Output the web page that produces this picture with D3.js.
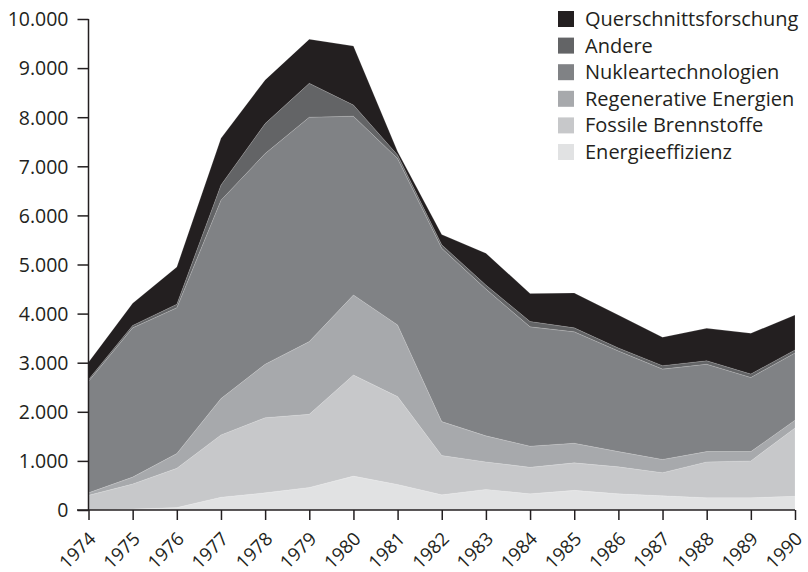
<!DOCTYPE html>
<html>
<head>
<meta charset="utf-8">
<script src="https://cdn.jsdelivr.net/npm/d3@7"></script>
<style>
  body { margin: 0; background: #fff; }
  text { font-family: "Open Sans", "Noto Sans", sans-serif; fill: #231f20; }
</style>
</head>
<body>
<svg width="808" height="572"></svg>
<script>
// years and series (Mio. DM)
var years = [1974, 1975, 1976, 1977, 1978, 1979, 1980, 1981, 1982, 1983, 1984, 1985, 1986, 1987, 1988, 1989, 1990];
var energieeffizienz = [0, 20, 50, 260, 350, 460, 690, 520, 310, 420, 330, 400, 330, 290, 250, 250, 280];
var fossile = [300, 510, 800, 1270, 1530, 1490, 2060, 1790, 800, 560, 540, 560, 550, 470, 730, 750, 1390];
var regenerative = [50, 140, 300, 740, 1090, 1480, 1630, 1460, 690, 530, 430, 400, 310, 270, 210, 190, 160];
var nuklear = [2270, 3040, 2970, 4040, 4290, 4570, 3640, 3390, 3530, 2990, 2430, 2270, 2050, 1840, 1780, 1510, 1370];
var andere = [40, 50, 70, 310, 610, 690, 230, 70, 70, 80, 110, 80, 60, 70, 70, 70, 60];
var querschnitt = [350, 450, 760, 950, 890, 900, 1200, 70, 210, 650, 570, 710, 670, 580, 660, 830, 710];

var keys = ["Energieeffizienz", "Fossile Brennstoffe", "Regenerative Energien", "Nukleartechnologien", "Andere", "Querschnittsforschung"];
var colors = ["#e1e2e3", "#c7c8ca", "#a7a9ac", "#808285", "#636466", "#231f20"];
var yTicks = [0, 1000, 2000, 3000, 4000, 5000, 6000, 7000, 8000, 9000, 10000];

var series = [energieeffizienz, fossile, regenerative, nuklear, andere, querschnitt];
var rows = years.map(function (y, i) {
  var r = { year: y };
  keys.forEach(function (k, j) { r[k] = series[j][i]; });
  return r;
});

var svg = d3.select("svg");

var x = d3.scaleLinear().domain([1974, 1990]).range([88.5, 795]);
var y = d3.scaleLinear().domain([0, 10000]).range([510, 19]);

var stacked = d3.stack().keys(keys)(rows);

var area = d3.area()
  .x(function (d) { return x(d.data.year); })
  .y0(function (d) { return y(d[0]); })
  .y1(function (d) { return y(d[1]); });

svg.append("g")
  .selectAll("path")
  .data(stacked)
  .enter()
  .append("path")
  .attr("d", area)
  .style("fill", function (d, i) { return colors[i]; })
  .style("stroke", "rgba(255,255,255,0.25)")
  .style("stroke-width", 0.6);

// y axis
var yAxis = svg.append("g")
  .attr("transform", "translate(88.5,0)")
  .call(d3.axisLeft(y).tickValues(yTicks).tickSize(11).tickPadding(9)
    .tickFormat(function (d) { return d3.format(",")(d).replace(/,/g, "."); }));
yAxis.select(".domain").attr("stroke", "#231f20").attr("stroke-width", 1.5).attr("d", "M0,19V510");
yAxis.selectAll(".tick line").attr("stroke", "#231f20").attr("stroke-width", 1.5);
yAxis.selectAll("text").style("font-size", "19.5px").attr("dy", "0.35em");

// x axis
var xAxis = svg.append("g")
  .attr("transform", "translate(0,510)")
  .call(d3.axisBottom(x).tickValues(years).tickSize(10).tickFormat(d3.format("d")));
xAxis.select(".domain").attr("stroke", "#231f20").attr("stroke-width", 1.5).attr("d", "M77,0H795");
xAxis.selectAll(".tick line").attr("stroke", "#231f20").attr("stroke-width", 1.5);
xAxis.selectAll("text")
  .style("font-size", "18.5px")
  .style("text-anchor", "end")
  .attr("x", 0)
  .attr("y", 0)
  .attr("dy", "0")
  .attr("transform", "translate(8,30) rotate(-45)");

// legend
var legendKeys = keys.slice().reverse();
var legendColors = colors.slice().reverse();
var legend = svg.append("g")
  .selectAll("g")
  .data(legendKeys)
  .enter()
  .append("g")
  .attr("transform", function (d, i) { return "translate(558," + (11 + i * 26.6) + ")"; });
legend.append("rect")
  .attr("width", 16).attr("height", 16)
  .style("fill", function (d, i) { return legendColors[i]; });
legend.append("text")
  .attr("x", 27).attr("y", 8).attr("dy", "0.35em")
  .style("font-size", "20px")
  .text(function (d) { return d; });
</script>
</body>
</html>
